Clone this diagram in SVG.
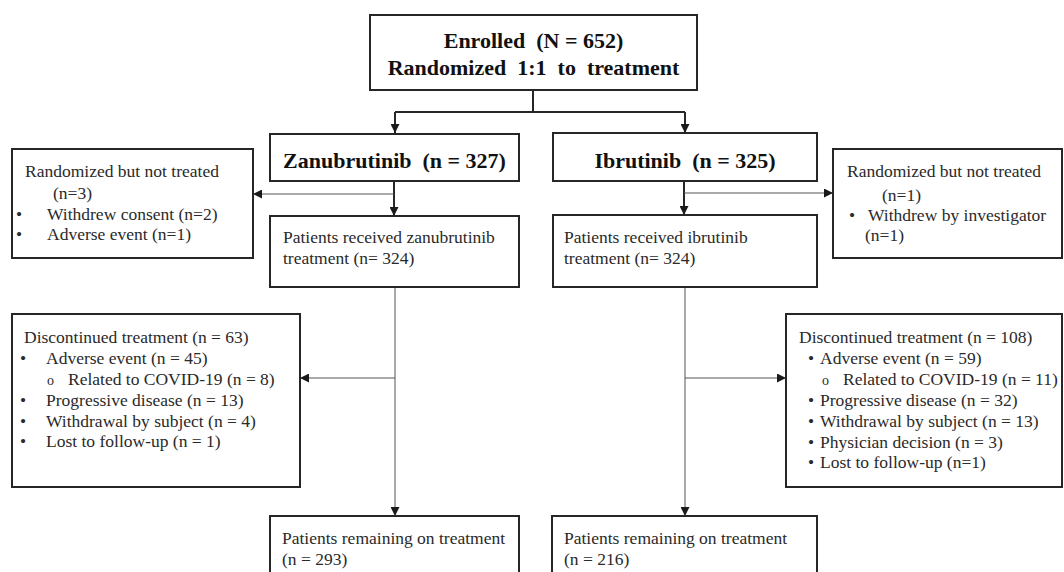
<svg xmlns="http://www.w3.org/2000/svg" width="1064" height="572" viewBox="0 0 1064 572">
  <style>
    .box { fill: #ffffff; stroke: #262626; stroke-width: 2; }
    .t { font-family: "Liberation Serif", "Times New Roman", serif; font-size: 17.5px; fill: #2a2a2a; }
    .b { font-family: "Liberation Serif", "Times New Roman", serif; font-size: 22px; font-weight: bold; fill: #111111; }
    .sub { font-size: 14px; }
    .thick { fill: none; stroke: #262626; stroke-width: 2; }
    .thin { fill: none; stroke: #555555; stroke-width: 1; }
  </style>
  <defs>
    <marker id="arrow" viewBox="0 0 10 10" refX="10" refY="5" markerWidth="9" markerHeight="9" markerUnits="userSpaceOnUse" orient="auto">
      <path d="M0,0 L10,5 L0,10 Z" fill="#1a1a1a"/>
    </marker>
  </defs>

  <rect width="1064" height="572" fill="#ffffff"/>

  <!-- connectors -->
  <g id="connectors">
    <path class="thick" d="M533,90 V112 M395,112 H685"/>
    <path class="thick" d="M395,112 V133" marker-end="url(#arrow)"/>
    <path class="thick" d="M685,112 V133" marker-end="url(#arrow)"/>
    <path class="thick" d="M394,181 V216" marker-end="url(#arrow)"/>
    <path class="thin" d="M394,194 H253" marker-end="url(#arrow)"/>
    <path class="thick" d="M684,181 V215" marker-end="url(#arrow)"/>
    <path class="thin" d="M684,193 H833" marker-end="url(#arrow)"/>
    <path class="thin" d="M395,287 V516" marker-end="url(#arrow)"/>
    <path class="thin" d="M395,378 H300" marker-end="url(#arrow)"/>
    <path class="thin" d="M685,287 V516" marker-end="url(#arrow)"/>
    <path class="thin" d="M685,378 H786" marker-end="url(#arrow)"/>
  </g>

  <g id="enrolled">
    <rect class="box" x="370" y="15" width="327" height="75"/>
    <text class="b" x="533.5" y="48" text-anchor="middle" xml:space="preserve">Enrolled  (N = 652)</text>
    <text class="b" x="533.5" y="75" text-anchor="middle" xml:space="preserve">Randomized  1:1  to  treatment</text>
  </g>

  <g id="zanubrutinib">
    <rect class="box" x="270" y="134" width="249" height="47"/>
    <text class="b" x="394.5" y="168" text-anchor="middle" xml:space="preserve">Zanubrutinib  (n = 327)</text>
  </g>

  <g id="ibrutinib">
    <rect class="box" x="553" y="133" width="264" height="48"/>
    <text class="b" x="685" y="168" text-anchor="middle" xml:space="preserve">Ibrutinib  (n = 325)</text>
  </g>

  <g id="zanu-not-treated">
    <rect class="box" x="12" y="149" width="241" height="109"/>
    <text class="t" x="25" y="177">Randomized but not treated</text>
    <text class="t" x="53" y="199">(n=3)</text>
    <text class="t" x="16" y="220">•</text>
    <text class="t" x="47" y="220">Withdrew consent (n=2)</text>
    <text class="t" x="16" y="240">•</text>
    <text class="t" x="47" y="240">Adverse event (n=1)</text>
  </g>

  <g id="ibru-not-treated">
    <rect class="box" x="833" y="149" width="229" height="109"/>
    <text class="t" x="847" y="177">Randomized but not treated</text>
    <text class="t" x="882" y="201">(n=1)</text>
    <text class="t" x="849" y="221">•</text>
    <text class="t" x="868" y="221">Withdrew by investigator</text>
    <text class="t" x="865" y="241">(n=1)</text>
  </g>

  <g id="zanu-received">
    <rect class="box" x="270" y="216" width="249" height="71"/>
    <text class="t" x="283" y="243">Patients received zanubrutinib</text>
    <text class="t" x="283" y="264">treatment (n= 324)</text>
  </g>

  <g id="ibru-received">
    <rect class="box" x="553" y="215" width="264" height="72"/>
    <text class="t" x="564" y="243">Patients received ibrutinib</text>
    <text class="t" x="564" y="264">treatment (n= 324)</text>
  </g>

  <g id="zanu-discontinued">
    <rect class="box" x="12" y="314" width="288" height="173"/>
    <text class="t" x="24" y="343">Discontinued treatment (n = 63)</text>
    <text class="t" x="20" y="364">•</text>
    <text class="t" x="46" y="364">Adverse event (n = 45)</text>
    <text class="t sub" x="47" y="385">o</text>
    <text class="t" x="68" y="385">Related to COVID-19 (n = 8)</text>
    <text class="t" x="20" y="406">•</text>
    <text class="t" x="46" y="406">Progressive disease (n = 13)</text>
    <text class="t" x="20" y="427">•</text>
    <text class="t" x="46" y="427">Withdrawal by subject (n = 4)</text>
    <text class="t" x="20" y="447">•</text>
    <text class="t" x="46" y="447">Lost to follow-up (n = 1)</text>
  </g>

  <g id="ibru-discontinued">
    <rect class="box" x="786" y="314" width="276" height="173"/>
    <text class="t" x="799" y="343">Discontinued treatment (n = 108)</text>
    <text class="t" x="808" y="364">•</text>
    <text class="t" x="820" y="364">Adverse event (n = 59)</text>
    <text class="t sub" x="822" y="385">o</text>
    <text class="t" x="843" y="385">Related to COVID-19 (n = 11)</text>
    <text class="t" x="808" y="406">•</text>
    <text class="t" x="820" y="406">Progressive disease (n = 32)</text>
    <text class="t" x="808" y="427">•</text>
    <text class="t" x="820" y="427">Withdrawal by subject (n = 13)</text>
    <text class="t" x="808" y="448">•</text>
    <text class="t" x="820" y="448">Physician decision (n = 3)</text>
    <text class="t" x="808" y="468">•</text>
    <text class="t" x="820" y="468">Lost to follow-up (n=1)</text>
  </g>

  <g id="zanu-remaining">
    <rect class="box" x="270" y="516" width="249" height="80"/>
    <text class="t" x="282" y="544">Patients remaining on treatment</text>
    <text class="t" x="282" y="565">(n = 293)</text>
  </g>

  <g id="ibru-remaining">
    <rect class="box" x="552" y="516" width="265" height="80"/>
    <text class="t" x="564" y="544">Patients remaining on treatment</text>
    <text class="t" x="564" y="565">(n = 216)</text>
  </g>
</svg>
